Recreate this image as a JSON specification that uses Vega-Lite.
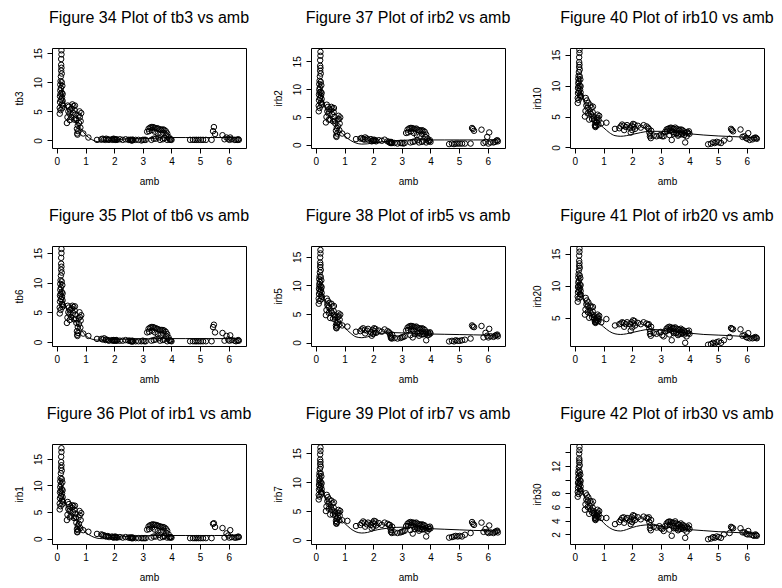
{
"$schema":"https://vega.github.io/schema/vega-lite/v6.json",
"padding":{"left":13,"top":9,"right":0,"bottom":0},
"bounds":"flush",
"columns":3,
"spacing":{"row":98,"column":65},
"datasets":{
"pts":[
{"amb":0.10,"tb3":4.6,"tb6":4.8,"irb1":5.5,"irb2":6.0,"irb5":6.8,"irb7":7.0,"irb10":7.2,"irb20":7.5,"irb30":7.5},
{"amb":0.10,"tb3":5.6,"tb6":5.8,"irb1":6.6,"irb2":7.0,"irb5":7.7,"irb7":7.8,"irb10":8.0,"irb20":8.3,"irb30":8.2},
{"amb":0.11,"tb3":6.6,"tb6":6.8,"irb1":7.6,"irb2":8.0,"irb5":8.5,"irb7":8.7,"irb10":8.8,"irb20":9.0,"irb30":8.8},
{"amb":0.11,"tb3":7.6,"tb6":7.8,"irb1":8.7,"irb2":9.0,"irb5":9.4,"irb7":9.5,"irb10":9.6,"irb20":9.8,"irb30":9.5},
{"amb":0.12,"tb3":8.6,"tb6":8.8,"irb1":9.7,"irb2":9.9,"irb5":10.2,"irb7":10.3,"irb10":10.4,"irb20":10.5,"irb30":10.2},
{"amb":0.12,"tb3":9.6,"tb6":9.8,"irb1":10.8,"irb2":10.9,"irb5":11.1,"irb7":11.1,"irb10":11.1,"irb20":11.3,"irb30":10.9},
{"amb":0.13,"tb3":10.2,"tb6":10.4,"irb1":11.4,"irb2":11.5,"irb5":11.6,"irb7":11.6,"irb10":11.6,"irb20":11.8,"irb30":11.3},
{"amb":0.13,"tb3":5.2,"tb6":5.4,"irb1":6.1,"irb2":6.6,"irb5":7.3,"irb7":7.5,"irb10":7.7,"irb20":8.0,"irb30":7.9},
{"amb":0.14,"tb3":7.0,"tb6":7.2,"irb1":8.0,"irb2":8.4,"irb5":8.9,"irb7":9.0,"irb10":9.1,"irb20":9.3,"irb30":9.1},
{"amb":0.14,"tb3":9.0,"tb6":9.2,"irb1":10.2,"irb2":10.3,"irb5":10.6,"irb7":10.6,"irb10":10.7,"irb20":10.8,"irb30":10.5},
{"amb":0.14,"tb3":11.0,"tb6":11.2,"irb1":12.3,"irb2":12.3,"irb5":12.3,"irb7":12.3,"irb10":12.2,"irb20":12.4,"irb30":11.8},
{"amb":0.15,"tb3":12.0,"tb6":12.2,"irb1":13.3,"irb2":13.3,"irb5":13.2,"irb7":13.1,"irb10":13.0,"irb20":13.1,"irb30":12.5},
{"amb":0.15,"tb3":13.0,"tb6":13.2,"irb1":14.4,"irb2":14.2,"irb5":14.0,"irb7":13.9,"irb10":13.8,"irb20":13.9,"irb30":13.1},
{"amb":0.15,"tb3":14.0,"tb6":14.2,"irb1":15.4,"irb2":15.2,"irb5":14.9,"irb7":14.8,"irb10":14.6,"irb20":14.7,"irb30":13.8},
{"amb":0.16,"tb3":14.8,"tb6":15.0,"irb1":16.3,"irb2":16.0,"irb5":15.6,"irb7":15.4,"irb10":15.3,"irb20":15.3,"irb30":14.3},
{"amb":0.16,"tb3":15.5,"tb6":15.7,"irb1":17.0,"irb2":16.7,"irb5":16.2,"irb7":16.0,"irb10":15.8,"irb20":15.8,"irb30":14.8},
{"amb":0.16,"tb3":12.5,"tb6":12.7,"irb1":13.8,"irb2":13.8,"irb5":13.6,"irb7":13.5,"irb10":13.4,"irb20":13.5,"irb30":12.8},
{"amb":0.17,"tb3":11.5,"tb6":11.7,"irb1":12.8,"irb2":12.8,"irb5":12.7,"irb7":12.7,"irb10":12.6,"irb20":12.8,"irb30":12.1},
{"amb":0.17,"tb3":10.0,"tb6":10.2,"irb1":11.2,"irb2":11.3,"irb5":11.5,"irb7":11.5,"irb10":11.5,"irb20":11.6,"irb30":11.1},
{"amb":0.17,"tb3":8.2,"tb6":8.4,"irb1":9.3,"irb2":9.5,"irb5":9.9,"irb7":10.0,"irb10":10.0,"irb20":10.2,"irb30":9.9},
{"amb":0.18,"tb3":6.2,"tb6":6.4,"irb1":7.2,"irb2":7.6,"irb5":8.2,"irb7":8.3,"irb10":8.5,"irb20":8.7,"irb30":8.6},
{"amb":0.18,"tb3":7.4,"tb6":7.6,"irb1":8.5,"irb2":8.8,"irb5":9.2,"irb7":9.3,"irb10":9.4,"irb20":9.6,"irb30":9.4},
{"amb":0.19,"tb3":9.4,"tb6":9.6,"irb1":10.6,"irb2":10.7,"irb5":10.9,"irb7":11.0,"irb10":11.0,"irb20":11.2,"irb30":10.7},
{"amb":0.19,"tb3":5.6,"tb6":5.9,"irb1":6.5,"irb2":7.1,"irb5":7.6,"irb7":7.9,"irb10":8.1,"irb20":8.2,"irb30":8.1},
{"amb":0.20,"tb3":8.0,"tb6":8.2,"irb1":9.1,"irb2":9.3,"irb5":9.7,"irb7":9.8,"irb10":9.9,"irb20":10.1,"irb30":9.8},
{"amb":0.20,"tb3":6.8,"tb6":7.0,"irb1":7.8,"irb2":8.2,"irb5":8.7,"irb7":8.8,"irb10":8.9,"irb20":9.2,"irb30":9.0},
{"amb":0.21,"tb3":6.0,"tb6":6.2,"irb1":7.0,"irb2":7.4,"irb5":8.0,"irb7":8.2,"irb10":8.3,"irb20":8.6,"irb30":8.4},
{"amb":0.13,"tb3":8.0,"tb6":8.1,"irb1":9.0,"irb2":9.4,"irb5":9.8,"irb7":9.9,"irb10":9.9,"irb20":10.0,"irb30":9.7},
{"amb":0.35,"tb3":3.0,"tb6":3.2,"irb1":3.5,"irb2":4.0,"irb5":4.8,"irb7":5.0,"irb10":5.0,"irb20":5.5,"irb30":5.6},
{"amb":0.37,"tb3":4.0,"tb6":4.1,"irb1":4.5,"irb2":5.0,"irb5":5.7,"irb7":5.8,"irb10":5.9,"irb20":6.3,"irb30":6.4},
{"amb":0.40,"tb3":5.0,"tb6":5.0,"irb1":5.6,"irb2":6.0,"irb5":6.6,"irb7":6.7,"irb10":6.8,"irb20":7.1,"irb30":7.1},
{"amb":0.42,"tb3":5.8,"tb6":5.8,"irb1":6.5,"irb2":6.8,"irb5":7.3,"irb7":7.4,"irb10":7.6,"irb20":7.7,"irb30":7.7},
{"amb":0.44,"tb3":4.6,"tb6":4.7,"irb1":5.2,"irb2":5.6,"irb5":6.2,"irb7":6.3,"irb10":6.4,"irb20":6.8,"irb30":6.8},
{"amb":0.45,"tb3":3.5,"tb6":3.7,"irb1":4.0,"irb2":4.5,"irb5":5.2,"irb7":5.4,"irb10":5.5,"irb20":5.9,"irb30":6.0},
{"amb":0.38,"tb3":6.0,"tb6":6.1,"irb1":6.9,"irb2":7.2,"irb5":7.7,"irb7":7.8,"irb10":8.0,"irb20":8.1,"irb30":8.0},
{"amb":0.47,"tb3":5.3,"tb6":5.4,"irb1":6.0,"irb2":6.4,"irb5":6.9,"irb7":7.0,"irb10":7.2,"irb20":7.4,"irb30":7.4},
{"amb":0.50,"tb3":4.0,"tb6":4.2,"irb1":4.3,"irb2":4.5,"irb5":4.3,"irb7":4.4,"irb10":4.5,"irb20":5.0,"irb30":5.0},
{"amb":0.52,"tb3":5.5,"tb6":5.6,"irb1":5.8,"irb2":6.2,"irb5":5.6,"irb7":5.7,"irb10":5.8,"irb20":6.1,"irb30":6.1},
{"amb":0.54,"tb3":6.2,"tb6":6.1,"irb1":6.3,"irb2":6.8,"irb5":6.8,"irb7":6.8,"irb10":6.8,"irb20":6.9,"irb30":6.9},
{"amb":0.56,"tb3":4.8,"tb6":4.9,"irb1":5.0,"irb2":5.5,"irb5":5.2,"irb7":5.2,"irb10":5.4,"irb20":5.7,"irb30":5.6},
{"amb":0.58,"tb3":5.9,"tb6":5.9,"irb1":6.1,"irb2":6.5,"irb5":6.3,"irb7":6.3,"irb10":6.4,"irb20":6.6,"irb30":6.5},
{"amb":0.60,"tb3":3.6,"tb6":3.8,"irb1":3.9,"irb2":4.2,"irb5":4.2,"irb7":4.4,"irb10":4.6,"irb20":5.1,"irb30":5.2},
{"amb":0.62,"tb3":5.2,"tb6":5.3,"irb1":5.4,"irb2":5.9,"irb5":5.5,"irb7":5.6,"irb10":5.7,"irb20":6.0,"irb30":5.9},
{"amb":0.63,"tb3":6.0,"tb6":6.0,"irb1":6.2,"irb2":6.6,"irb5":6.4,"irb7":6.5,"irb10":6.6,"irb20":6.7,"irb30":6.8},
{"amb":0.65,"tb3":4.5,"tb6":4.6,"irb1":4.7,"irb2":5.0,"irb5":4.8,"irb7":4.9,"irb10":5.0,"irb20":5.4,"irb30":5.4},
{"amb":0.66,"tb3":3.8,"tb6":3.9,"irb1":4.0,"irb2":4.3,"irb5":4.5,"irb7":4.6,"irb10":4.7,"irb20":5.1,"irb30":5.1},
{"amb":0.68,"tb3":3.5,"tb6":3.2,"irb1":3.0,"irb2":3.8,"irb5":4.0,"irb7":4.2,"irb10":4.4,"irb20":4.8,"irb30":4.9},
{"amb":0.70,"tb3":2.0,"tb6":1.8,"irb1":1.8,"irb2":2.5,"irb5":3.0,"irb7":3.3,"irb10":3.6,"irb20":4.4,"irb30":4.4},
{"amb":0.71,"tb3":1.2,"tb6":1.2,"irb1":1.2,"irb2":1.6,"irb5":2.6,"irb7":2.9,"irb10":3.4,"irb20":4.3,"irb30":4.2},
{"amb":0.73,"tb3":2.6,"tb6":2.5,"irb1":2.4,"irb2":3.0,"irb5":3.4,"irb7":3.7,"irb10":4.0,"irb20":4.6,"irb30":4.6},
{"amb":0.74,"tb3":1.6,"tb6":1.5,"irb1":1.6,"irb2":2.0,"irb5":2.8,"irb7":3.1,"irb10":3.5,"irb20":4.4,"irb30":4.3},
{"amb":0.76,"tb3":4.3,"tb6":4.0,"irb1":4.0,"irb2":4.5,"irb5":4.5,"irb7":4.6,"irb10":4.7,"irb20":5.0,"irb30":5.1},
{"amb":0.77,"tb3":3.0,"tb6":3.0,"irb1":2.8,"irb2":3.3,"irb5":3.6,"irb7":3.9,"irb10":4.1,"irb20":4.6,"irb30":4.7},
{"amb":0.79,"tb3":5.0,"tb6":5.0,"irb1":5.2,"irb2":5.2,"irb5":5.1,"irb7":5.2,"irb10":5.3,"irb20":5.5,"irb30":5.6},
{"amb":0.80,"tb3":4.0,"tb6":4.2,"irb1":4.4,"irb2":4.6,"irb5":4.6,"irb7":4.7,"irb10":4.8,"irb20":5.1,"irb30":5.2},
{"amb":0.82,"tb3":2.2,"tb6":2.4,"irb1":2.0,"irb2":2.6,"irb5":3.2,"irb7":3.4,"irb10":3.7,"irb20":4.5,"irb30":4.5},
{"amb":0.83,"tb3":3.3,"tb6":3.6,"irb1":3.5,"irb2":3.8,"irb5":4.0,"irb7":4.2,"irb10":4.4,"irb20":4.8,"irb30":4.9},
{"amb":0.85,"tb3":4.7,"tb6":4.5,"irb1":4.8,"irb2":4.9,"irb5":4.9,"irb7":5.0,"irb10":5.1,"irb20":5.3,"irb30":5.4},
{"amb":0.72,"tb3":1.0,"tb6":1.0,"irb1":1.3,"irb2":1.4,"irb5":2.5,"irb7":2.8,"irb10":3.3,"irb20":4.2,"irb30":4.1},
{"amb":0.92,"tb3":1.2,"tb6":1.4,"irb1":1.6,"irb2":2.0,"irb5":3.0,"irb7":3.4,"irb10":3.9,"irb20":4.3,"irb30":4.4},
{"amb":1.10,"tb3":0.5,"tb6":1.0,"irb1":1.3,"irb2":1.6,"irb5":2.8,"irb7":3.3,"irb10":4.0,"irb20":4.8,"irb30":4.4},
{"amb":1.40,"tb3":0.1,"tb6":0.5,"irb1":0.9,"irb2":1.0,"irb5":1.9,"irb7":2.4,"irb10":3.0,"irb20":3.8,"irb30":3.5},
{"amb":1.55,"tb3":0.2,"tb6":0.5,"irb1":0.8,"irb2":1.1,"irb5":2.0,"irb7":2.6,"irb10":3.1,"irb20":4.0,"irb30":3.8},
{"amb":1.60,"tb3":0.3,"tb6":0.4,"irb1":0.7,"irb2":1.2,"irb5":2.3,"irb7":2.9,"irb10":3.4,"irb20":4.1,"irb30":4.1},
{"amb":1.65,"tb3":0.2,"tb6":0.6,"irb1":0.6,"irb2":1.0,"irb5":2.5,"irb7":3.2,"irb10":3.7,"irb20":4.3,"irb30":4.4},
{"amb":1.70,"tb3":0.1,"tb6":0.3,"irb1":0.5,"irb2":0.9,"irb5":2.2,"irb7":3.0,"irb10":3.5,"irb20":4.2,"irb30":4.5},
{"amb":1.72,"tb3":0.3,"tb6":0.4,"irb1":0.4,"irb2":1.3,"irb5":1.6,"irb7":2.3,"irb10":2.8,"irb20":3.6,"irb30":3.7},
{"amb":1.78,"tb3":0.2,"tb6":0.3,"irb1":0.5,"irb2":1.1,"irb5":2.1,"irb7":2.7,"irb10":3.3,"irb20":4.0,"irb30":4.2},
{"amb":1.82,"tb3":0.1,"tb6":0.2,"irb1":0.3,"irb2":0.9,"irb5":2.4,"irb7":3.0,"irb10":3.6,"irb20":4.3,"irb30":4.4},
{"amb":1.92,"tb3":0.2,"tb6":0.3,"irb1":0.4,"irb2":1.0,"irb5":1.8,"irb7":2.6,"irb10":3.2,"irb20":4.0,"irb30":4.0},
{"amb":1.95,"tb3":0.1,"tb6":0.2,"irb1":0.3,"irb2":0.6,"irb5":1.2,"irb7":2.0,"irb10":2.4,"irb20":3.0,"irb30":3.5},
{"amb":1.98,"tb3":0.3,"tb6":0.3,"irb1":0.2,"irb2":0.8,"irb5":2.2,"irb7":3.0,"irb10":3.5,"irb20":4.3,"irb30":4.5},
{"amb":2.00,"tb3":0.2,"tb6":0.2,"irb1":0.3,"irb2":0.7,"irb5":1.5,"irb7":2.3,"irb10":2.8,"irb20":3.5,"irb30":3.8},
{"amb":2.03,"tb3":0.2,"tb6":0.3,"irb1":0.4,"irb2":0.9,"irb5":2.5,"irb7":3.3,"irb10":3.8,"irb20":4.6,"irb30":4.8},
{"amb":2.05,"tb3":0.1,"tb6":0.2,"irb1":0.3,"irb2":0.7,"irb5":2.0,"irb7":2.8,"irb10":3.3,"irb20":4.1,"irb30":4.3},
{"amb":2.08,"tb3":0.2,"tb6":0.3,"irb1":0.3,"irb2":0.8,"irb5":2.4,"irb7":3.2,"irb10":3.7,"irb20":4.5,"irb30":4.7},
{"amb":2.10,"tb3":0.1,"tb6":0.2,"irb1":0.2,"irb2":0.6,"irb5":1.7,"irb7":2.5,"irb10":3.0,"irb20":3.8,"irb30":4.1},
{"amb":2.20,"tb3":0.2,"tb6":0.2,"irb1":0.3,"irb2":0.8,"irb5":2.1,"irb7":2.9,"irb10":3.5,"irb20":4.2,"irb30":4.5},
{"amb":2.30,"tb3":0.1,"tb6":0.2,"irb1":0.2,"irb2":0.7,"irb5":1.9,"irb7":2.6,"irb10":3.2,"irb20":4.0,"irb30":4.2},
{"amb":2.40,"tb3":0.2,"tb6":0.3,"irb1":0.3,"irb2":0.9,"irb5":2.3,"irb7":3.0,"irb10":3.6,"irb20":4.3,"irb30":4.6},
{"amb":2.50,"tb3":0.1,"tb6":0.2,"irb1":0.2,"irb2":0.6,"irb5":2.0,"irb7":2.8,"irb10":3.4,"irb20":4.1,"irb30":4.4},
{"amb":2.55,"tb3":0.1,"tb6":0.2,"irb1":0.2,"irb2":0.5,"irb5":1.8,"irb7":2.6,"irb10":3.2,"irb20":3.9,"irb30":4.3},
{"amb":2.58,"tb3":0.1,"tb6":0.1,"irb1":0.2,"irb2":0.4,"irb5":1.6,"irb7":2.6,"irb10":3.0,"irb20":4.0,"irb30":4.5},
{"amb":2.60,"tb3":0.0,"tb6":0.1,"irb1":0.1,"irb2":0.3,"irb5":1.2,"irb7":2.0,"irb10":2.4,"irb20":3.3,"irb30":3.8},
{"amb":2.62,"tb3":0.1,"tb6":0.1,"irb1":0.2,"irb2":0.5,"irb5":0.8,"irb7":1.4,"irb10":1.8,"irb20":2.5,"irb30":2.9},
{"amb":2.63,"tb3":0.0,"tb6":0.2,"irb1":0.1,"irb2":0.3,"irb5":1.0,"irb7":1.7,"irb10":2.1,"irb20":2.9,"irb30":3.3},
{"amb":2.65,"tb3":0.1,"tb6":0.1,"irb1":0.2,"irb2":0.4,"irb5":0.7,"irb7":1.2,"irb10":1.5,"irb20":2.2,"irb30":2.6},
{"amb":2.66,"tb3":0.1,"tb6":0.1,"irb1":0.1,"irb2":0.3,"irb5":1.4,"irb7":2.3,"irb10":2.7,"irb20":3.6,"irb30":4.1},
{"amb":2.75,"tb3":0.1,"tb6":0.1,"irb1":0.1,"irb2":0.3,"irb5":0.8,"irb7":1.3,"irb10":1.9,"irb20":2.6,"irb30":3.1},
{"amb":2.85,"tb3":0.1,"tb6":0.1,"irb1":0.1,"irb2":0.2,"irb5":0.7,"irb7":1.2,"irb10":1.8,"irb20":2.5,"irb30":3.0},
{"amb":2.95,"tb3":0.0,"tb6":0.1,"irb1":0.1,"irb2":0.3,"irb5":0.8,"irb7":1.3,"irb10":1.9,"irb20":2.7,"irb30":3.2},
{"amb":3.00,"tb3":0.1,"tb6":0.2,"irb1":0.1,"irb2":0.3,"irb5":0.9,"irb7":1.4,"irb10":2.0,"irb20":2.8,"irb30":2.9},
{"amb":3.05,"tb3":0.1,"tb6":0.1,"irb1":0.1,"irb2":0.2,"irb5":1.0,"irb7":1.5,"irb10":1.8,"irb20":2.3,"irb30":2.8},
{"amb":3.15,"tb3":1.5,"tb6":1.6,"irb1":1.7,"irb2":2.1,"irb5":2.1,"irb7":2.4,"irb10":2.5,"irb20":2.9,"irb30":3.2},
{"amb":3.20,"tb3":2.0,"tb6":2.2,"irb1":2.3,"irb2":2.7,"irb5":2.6,"irb7":2.8,"irb10":2.9,"irb20":3.3,"irb30":3.6},
{"amb":3.25,"tb3":2.2,"tb6":2.4,"irb1":2.5,"irb2":2.9,"irb5":2.8,"irb7":3.0,"irb10":3.0,"irb20":3.5,"irb30":3.8},
{"amb":3.30,"tb3":2.3,"tb6":2.5,"irb1":2.6,"irb2":3.0,"irb5":2.9,"irb7":3.1,"irb10":3.1,"irb20":3.6,"irb30":3.9},
{"amb":3.35,"tb3":2.3,"tb6":2.5,"irb1":2.7,"irb2":3.0,"irb5":2.9,"irb7":3.0,"irb10":3.2,"irb20":3.5,"irb30":3.8},
{"amb":3.40,"tb3":2.2,"tb6":2.4,"irb1":2.6,"irb2":2.9,"irb5":2.8,"irb7":3.0,"irb10":3.1,"irb20":3.4,"irb30":3.7},
{"amb":3.45,"tb3":2.1,"tb6":2.3,"irb1":2.6,"irb2":2.8,"irb5":2.7,"irb7":2.9,"irb10":3.0,"irb20":3.4,"irb30":3.7},
{"amb":3.50,"tb3":2.1,"tb6":2.2,"irb1":2.5,"irb2":2.9,"irb5":2.8,"irb7":3.0,"irb10":3.2,"irb20":3.5,"irb30":3.9},
{"amb":3.55,"tb3":2.0,"tb6":2.1,"irb1":2.4,"irb2":2.7,"irb5":2.6,"irb7":2.8,"irb10":3.0,"irb20":3.3,"irb30":3.6},
{"amb":3.60,"tb3":1.9,"tb6":2.0,"irb1":2.3,"irb2":2.6,"irb5":2.5,"irb7":2.7,"irb10":2.9,"irb20":3.2,"irb30":3.5},
{"amb":3.65,"tb3":1.8,"tb6":2.0,"irb1":2.2,"irb2":2.5,"irb5":2.4,"irb7":2.6,"irb10":2.8,"irb20":3.1,"irb30":3.4},
{"amb":3.70,"tb3":1.9,"tb6":2.0,"irb1":2.2,"irb2":2.6,"irb5":2.5,"irb7":2.7,"irb10":2.9,"irb20":3.3,"irb30":3.6},
{"amb":3.75,"tb3":1.8,"tb6":1.9,"irb1":2.1,"irb2":2.5,"irb5":2.4,"irb7":2.6,"irb10":2.8,"irb20":3.1,"irb30":3.4},
{"amb":3.80,"tb3":1.6,"tb6":1.7,"irb1":1.9,"irb2":2.3,"irb5":2.2,"irb7":2.5,"irb10":2.6,"irb20":3.0,"irb30":3.3},
{"amb":3.85,"tb3":1.2,"tb6":1.3,"irb1":1.5,"irb2":1.8,"irb5":1.8,"irb7":2.1,"irb10":2.3,"irb20":2.7,"irb30":3.0},
{"amb":3.90,"tb3":0.6,"tb6":0.7,"irb1":0.8,"irb2":1.1,"irb5":1.3,"irb7":1.6,"irb10":1.8,"irb20":2.1,"irb30":2.4},
{"amb":3.22,"tb3":1.6,"tb6":1.7,"irb1":1.8,"irb2":2.2,"irb5":2.2,"irb7":2.4,"irb10":2.6,"irb20":3.0,"irb30":3.3},
{"amb":3.32,"tb3":1.8,"tb6":1.9,"irb1":2.1,"irb2":2.4,"irb5":2.4,"irb7":2.6,"irb10":2.7,"irb20":3.1,"irb30":3.4},
{"amb":3.42,"tb3":1.5,"tb6":1.6,"irb1":1.7,"irb2":2.1,"irb5":2.1,"irb7":2.3,"irb10":2.5,"irb20":2.9,"irb30":3.2},
{"amb":3.52,"tb3":1.2,"tb6":1.3,"irb1":1.4,"irb2":1.7,"irb5":1.8,"irb7":2.1,"irb10":2.3,"irb20":2.6,"irb30":2.9},
{"amb":3.62,"tb3":1.0,"tb6":1.1,"irb1":1.2,"irb2":1.5,"irb5":1.6,"irb7":1.9,"irb10":2.1,"irb20":2.5,"irb30":2.8},
{"amb":3.72,"tb3":1.3,"tb6":1.4,"irb1":1.5,"irb2":1.9,"irb5":1.9,"irb7":2.2,"irb10":2.4,"irb20":2.8,"irb30":3.1},
{"amb":3.82,"tb3":0.9,"tb6":1.0,"irb1":1.1,"irb2":1.4,"irb5":1.5,"irb7":1.8,"irb10":2.0,"irb20":2.4,"irb30":2.7},
{"amb":3.10,"tb3":0.1,"tb6":0.1,"irb1":0.1,"irb2":0.3,"irb5":1.1,"irb7":1.6,"irb10":1.8,"irb20":2.1,"irb30":2.5},
{"amb":3.30,"tb3":0.1,"tb6":0.2,"irb1":0.2,"irb2":0.4,"irb5":1.3,"irb7":1.7,"irb10":2.0,"irb20":2.4,"irb30":2.7},
{"amb":3.38,"tb3":0.3,"tb6":0.3,"irb1":0.4,"irb2":0.5,"irb5":0.9,"irb7":1.1,"irb10":1.2,"irb20":1.5,"irb30":1.8},
{"amb":3.45,"tb3":0.3,"tb6":0.4,"irb1":0.4,"irb2":0.6,"irb5":1.5,"irb7":1.9,"irb10":2.2,"irb20":2.6,"irb30":2.9},
{"amb":3.55,"tb3":0.5,"tb6":0.6,"irb1":0.7,"irb2":0.8,"irb5":1.6,"irb7":2.0,"irb10":2.3,"irb20":2.7,"irb30":3.0},
{"amb":3.70,"tb3":0.2,"tb6":0.3,"irb1":0.3,"irb2":0.5,"irb5":1.4,"irb7":1.8,"irb10":2.1,"irb20":2.5,"irb30":2.8},
{"amb":3.85,"tb3":0.1,"tb6":0.1,"irb1":0.2,"irb2":0.4,"irb5":0.4,"irb7":0.6,"irb10":0.8,"irb20":1.1,"irb30":1.5},
{"amb":3.95,"tb3":0.1,"tb6":0.2,"irb1":0.2,"irb2":0.6,"irb5":1.4,"irb7":1.9,"irb10":2.3,"irb20":2.6,"irb30":2.9},
{"amb":4.00,"tb3":0.1,"tb6":0.1,"irb1":0.2,"irb2":0.5,"irb5":1.6,"irb7":2.0,"irb10":2.2,"irb20":2.5,"irb30":2.8},
{"amb":3.92,"tb3":0.3,"tb6":0.3,"irb1":0.3,"irb2":0.7,"irb5":1.7,"irb7":2.2,"irb10":2.5,"irb20":2.9,"irb30":3.1},
{"amb":3.98,"tb3":0.2,"tb6":0.2,"irb1":0.3,"irb2":0.8,"irb5":1.8,"irb7":2.3,"irb10":2.6,"irb20":3.0,"irb30":3.3},
{"amb":3.60,"tb3":0.1,"tb6":0.2,"irb1":0.2,"irb2":0.4,"irb5":1.2,"irb7":1.6,"irb10":1.9,"irb20":2.3,"irb30":2.6},
{"amb":3.75,"tb3":0.4,"tb6":0.4,"irb1":0.5,"irb2":0.7,"irb5":1.5,"irb7":1.9,"irb10":2.2,"irb20":2.6,"irb30":2.9},
{"amb":4.65,"tb3":0.1,"tb6":0.1,"irb1":0.1,"irb2":0.1,"irb5":0.2,"irb7":0.4,"irb10":0.5,"irb20":0.8,"irb30":1.3},
{"amb":4.75,"tb3":0.1,"tb6":0.1,"irb1":0.1,"irb2":0.2,"irb5":0.3,"irb7":0.5,"irb10":0.6,"irb20":0.9,"irb30":1.4},
{"amb":4.82,"tb3":0.1,"tb6":0.1,"irb1":0.1,"irb2":0.1,"irb5":0.2,"irb7":0.6,"irb10":0.8,"irb20":1.1,"irb30":1.6},
{"amb":4.88,"tb3":0.1,"tb6":0.1,"irb1":0.1,"irb2":0.2,"irb5":0.4,"irb7":0.7,"irb10":0.7,"irb20":1.0,"irb30":1.5},
{"amb":4.95,"tb3":0.1,"tb6":0.1,"irb1":0.1,"irb2":0.2,"irb5":0.3,"irb7":0.6,"irb10":0.9,"irb20":1.2,"irb30":1.7},
{"amb":5.02,"tb3":0.1,"tb6":0.1,"irb1":0.1,"irb2":0.2,"irb5":0.3,"irb7":0.7,"irb10":0.8,"irb20":1.3,"irb30":1.6},
{"amb":5.10,"tb3":0.1,"tb6":0.1,"irb1":0.1,"irb2":0.2,"irb5":0.4,"irb7":0.6,"irb10":0.7,"irb20":1.1,"irb30":1.5},
{"amb":5.20,"tb3":0.1,"tb6":0.1,"irb1":0.1,"irb2":0.2,"irb5":0.5,"irb7":0.9,"irb10":1.1,"irb20":1.5,"irb30":2.0},
{"amb":5.40,"tb3":0.1,"tb6":0.1,"irb1":0.1,"irb2":0.2,"irb5":0.7,"irb7":1.2,"irb10":1.4,"irb20":2.0,"irb30":2.2},
{"amb":5.45,"tb3":1.6,"tb6":2.5,"irb1":2.8,"irb2":3.0,"irb5":3.0,"irb7":3.1,"irb10":3.0,"irb20":3.4,"irb30":3.1},
{"amb":5.48,"tb3":2.3,"tb6":2.9,"irb1":2.9,"irb2":2.8,"irb5":2.8,"irb7":2.8,"irb10":2.8,"irb20":3.3,"irb30":3.0},
{"amb":5.52,"tb3":1.1,"tb6":1.6,"irb1":2.2,"irb2":2.5,"irb5":2.7,"irb7":2.6,"irb10":2.6,"irb20":3.2,"irb30":2.9},
{"amb":5.78,"tb3":0.9,"tb6":1.5,"irb1":2.0,"irb2":2.7,"irb5":2.9,"irb7":3.0,"irb10":2.9,"irb20":3.2,"irb30":2.9},
{"amb":5.85,"tb3":0.2,"tb6":0.2,"irb1":0.2,"irb2":0.3,"irb5":0.9,"irb7":1.4,"irb10":1.7,"irb20":2.2,"irb30":2.3},
{"amb":5.92,"tb3":0.5,"tb6":1.0,"irb1":1.0,"irb2":0.5,"irb5":1.7,"irb7":1.9,"irb10":1.8,"irb20":2.3,"irb30":2.3},
{"amb":5.98,"tb3":0.3,"tb6":0.4,"irb1":0.6,"irb2":1.4,"irb5":1.2,"irb7":1.4,"irb10":1.5,"irb20":2.0,"irb30":2.1},
{"amb":6.02,"tb3":0.1,"tb6":0.2,"irb1":0.2,"irb2":0.2,"irb5":0.9,"irb7":1.2,"irb10":1.4,"irb20":1.9,"irb30":2.0},
{"amb":6.05,"tb3":0.5,"tb6":1.1,"irb1":1.6,"irb2":2.2,"irb5":2.4,"irb7":2.5,"irb10":2.3,"irb20":2.6,"irb30":2.5},
{"amb":6.10,"tb3":0.2,"tb6":0.3,"irb1":0.3,"irb2":0.4,"irb5":1.1,"irb7":1.3,"irb10":1.2,"irb20":1.8,"irb30":2.0},
{"amb":6.20,"tb3":0.1,"tb6":0.2,"irb1":0.2,"irb2":0.4,"irb5":1.0,"irb7":1.2,"irb10":1.3,"irb20":1.8,"irb30":1.9},
{"amb":6.25,"tb3":0.1,"tb6":0.1,"irb1":0.2,"irb2":0.5,"irb5":1.2,"irb7":1.4,"irb10":1.5,"irb20":1.9,"irb30":1.8},
{"amb":6.30,"tb3":0.1,"tb6":0.2,"irb1":0.3,"irb2":0.7,"irb5":1.3,"irb7":1.5,"irb10":1.6,"irb20":2.0,"irb30":2.0},
{"amb":6.33,"tb3":0.2,"tb6":0.3,"irb1":0.4,"irb2":0.8,"irb5":1.4,"irb7":1.6,"irb10":1.5,"irb20":1.9,"irb30":1.9},
{"amb":6.35,"tb3":0.1,"tb6":0.2,"irb1":0.3,"irb2":0.6,"irb5":1.1,"irb7":1.3,"irb10":1.4,"irb20":1.8,"irb30":1.8}
],
"fit":[
{"amb":0.1,"tb3":10.5,"tb6":10.5,"irb1":11.5,"irb2":11.5,"irb5":11.5,"irb7":11.5,"irb10":11.5,"irb20":11.6,"irb30":11.0},
{"amb":0.2,"tb3":8.0,"tb6":8.0,"irb1":8.8,"irb2":9.0,"irb5":9.0,"irb7":9.2,"irb10":9.3,"irb20":9.5,"irb30":9.3},
{"amb":0.3,"tb3":6.0,"tb6":6.0,"irb1":6.5,"irb2":7.0,"irb5":7.2,"irb7":7.5,"irb10":7.6,"irb20":7.8,"irb30":7.8},
{"amb":0.4,"tb3":4.8,"tb6":4.9,"irb1":5.2,"irb2":5.6,"irb5":6.0,"irb7":6.3,"irb10":6.4,"irb20":6.7,"irb30":6.8},
{"amb":0.5,"tb3":4.2,"tb6":4.3,"irb1":4.5,"irb2":4.8,"irb5":5.2,"irb7":5.5,"irb10":5.6,"irb20":5.9,"irb30":6.0},
{"amb":0.6,"tb3":3.6,"tb6":3.7,"irb1":3.9,"irb2":4.2,"irb5":4.6,"irb7":4.9,"irb10":5.0,"irb20":5.3,"irb30":5.5},
{"amb":0.7,"tb3":3.0,"tb6":3.1,"irb1":3.2,"irb2":3.5,"irb5":4.0,"irb7":4.3,"irb10":4.5,"irb20":4.8,"irb30":5.0},
{"amb":0.8,"tb3":2.3,"tb6":2.4,"irb1":2.5,"irb2":2.8,"irb5":3.5,"irb7":3.8,"irb10":4.0,"irb20":4.4,"irb30":4.6},
{"amb":0.9,"tb3":1.6,"tb6":1.7,"irb1":1.8,"irb2":2.1,"irb5":3.1,"irb7":3.3,"irb10":3.6,"irb20":4.0,"irb30":4.2},
{"amb":1.0,"tb3":1.0,"tb6":1.1,"irb1":1.2,"irb2":1.6,"irb5":2.6,"irb7":2.9,"irb10":3.2,"irb20":3.6,"irb30":3.7},
{"amb":1.2,"tb3":0.2,"tb6":0.5,"irb1":0.5,"irb2":0.8,"irb5":1.7,"irb7":2.0,"irb10":2.4,"irb20":2.9,"irb30":3.0},
{"amb":1.4,"tb3":-0.2,"tb6":0.3,"irb1":0.1,"irb2":0.3,"irb5":1.0,"irb7":1.4,"irb10":1.9,"irb20":2.5,"irb30":2.6},
{"amb":1.6,"tb3":-0.3,"tb6":0.3,"irb1":0.0,"irb2":0.1,"irb5":0.85,"irb7":1.2,"irb10":1.8,"irb20":2.4,"irb30":2.5},
{"amb":1.8,"tb3":-0.1,"tb6":0.35,"irb1":0.1,"irb2":0.15,"irb5":1.0,"irb7":1.3,"irb10":1.9,"irb20":2.5,"irb30":2.7},
{"amb":2.0,"tb3":0.1,"tb6":0.4,"irb1":0.2,"irb2":0.3,"irb5":1.3,"irb7":1.6,"irb10":2.1,"irb20":2.7,"irb30":3.0},
{"amb":2.3,"tb3":0.2,"tb6":0.45,"irb1":0.35,"irb2":0.5,"irb5":1.6,"irb7":1.9,"irb10":2.4,"irb20":3.0,"irb30":3.3},
{"amb":2.6,"tb3":0.3,"tb6":0.5,"irb1":0.45,"irb2":0.65,"irb5":1.75,"irb7":2.1,"irb10":2.6,"irb20":3.2,"irb30":3.4},
{"amb":3.0,"tb3":0.3,"tb6":0.5,"irb1":0.55,"irb2":0.8,"irb5":1.7,"irb7":2.2,"irb10":2.6,"irb20":3.1,"irb30":3.2},
{"amb":3.5,"tb3":0.4,"tb6":0.55,"irb1":0.6,"irb2":0.85,"irb5":1.6,"irb7":2.1,"irb10":2.4,"irb20":2.8,"irb30":2.9},
{"amb":4.0,"tb3":0.5,"tb6":0.55,"irb1":0.6,"irb2":0.85,"irb5":1.5,"irb7":1.95,"irb10":2.2,"irb20":2.6,"irb30":2.7},
{"amb":4.5,"tb3":0.5,"tb6":0.55,"irb1":0.6,"irb2":0.85,"irb5":1.45,"irb7":1.85,"irb10":2.0,"irb20":2.4,"irb30":2.55},
{"amb":5.0,"tb3":0.5,"tb6":0.55,"irb1":0.6,"irb2":0.85,"irb5":1.4,"irb7":1.75,"irb10":1.85,"irb20":2.3,"irb30":2.4},
{"amb":5.5,"tb3":0.5,"tb6":0.55,"irb1":0.6,"irb2":0.85,"irb5":1.35,"irb7":1.65,"irb10":1.75,"irb20":2.2,"irb30":2.3},
{"amb":6.0,"tb3":0.5,"tb6":0.55,"irb1":0.6,"irb2":0.85,"irb5":1.3,"irb7":1.6,"irb10":1.65,"irb20":2.05,"irb30":2.2},
{"amb":6.35,"tb3":0.5,"tb6":0.55,"irb1":0.6,"irb2":0.85,"irb5":1.3,"irb7":1.55,"irb10":1.6,"irb20":2.0,"irb30":2.1}
]
},
"concat":[
{"width":194,"height":100,"title":"Figure 34 Plot of tb3 vs amb",
"encoding":{"x":{"field":"amb","type":"quantitative","title":"amb","scale":{"domain":[-0.17,6.6],"nice":false,"zero":false},"axis":{"values":[0,1,2,3,4,5,6],"tickCount":7}},"y":{"field":"tb3","type":"quantitative","title":"tb3","scale":{"domain":[-1.3,15.9],"nice":false,"zero":false},"axis":{"values":[0,5,10,15]}}},
"layer":[{"data":{"name":"pts"},"mark":{"type":"point","clip":true}},{"data":{"name":"fit"},"mark":{"type":"line","interpolate":"monotone","clip":true}}]},
{"width":194,"height":100,"title":"Figure 37 Plot of irb2 vs amb",
"encoding":{"x":{"field":"amb","type":"quantitative","title":"amb","scale":{"domain":[-0.17,6.6],"nice":false,"zero":false},"axis":{"values":[0,1,2,3,4,5,6],"tickCount":7}},"y":{"field":"irb2","type":"quantitative","title":"irb2","scale":{"domain":[-0.6,17.4],"nice":false,"zero":false},"axis":{"values":[0,5,10,15]}}},
"layer":[{"data":{"name":"pts"},"mark":{"type":"point","clip":true}},{"data":{"name":"fit"},"mark":{"type":"line","interpolate":"monotone","clip":true}}]},
{"width":194,"height":100,"title":"Figure 40 Plot of irb10 vs amb",
"encoding":{"x":{"field":"amb","type":"quantitative","title":"amb","scale":{"domain":[-0.17,6.6],"nice":false,"zero":false},"axis":{"values":[0,1,2,3,4,5,6],"tickCount":7}},"y":{"field":"irb10","type":"quantitative","title":"irb10","scale":{"domain":[-0.1,16.1],"nice":false,"zero":false},"axis":{"values":[0,5,10,15]}}},
"layer":[{"data":{"name":"pts"},"mark":{"type":"point","clip":true}},{"data":{"name":"fit"},"mark":{"type":"line","interpolate":"monotone","clip":true}}]},
{"width":194,"height":100,"title":"Figure 35 Plot of tb6 vs amb",
"encoding":{"x":{"field":"amb","type":"quantitative","title":"amb","scale":{"domain":[-0.17,6.6],"nice":false,"zero":false},"axis":{"values":[0,1,2,3,4,5,6],"tickCount":7}},"y":{"field":"tb6","type":"quantitative","title":"tb6","scale":{"domain":[-0.7,16.2],"nice":false,"zero":false},"axis":{"values":[0,5,10,15]}}},
"layer":[{"data":{"name":"pts"},"mark":{"type":"point","clip":true}},{"data":{"name":"fit"},"mark":{"type":"line","interpolate":"monotone","clip":true}}]},
{"width":194,"height":100,"title":"Figure 38 Plot of irb5 vs amb",
"encoding":{"x":{"field":"amb","type":"quantitative","title":"amb","scale":{"domain":[-0.17,6.6],"nice":false,"zero":false},"axis":{"values":[0,1,2,3,4,5,6],"tickCount":7}},"y":{"field":"irb5","type":"quantitative","title":"irb5","scale":{"domain":[-0.6,16.9],"nice":false,"zero":false},"axis":{"values":[0,5,10,15]}}},
"layer":[{"data":{"name":"pts"},"mark":{"type":"point","clip":true}},{"data":{"name":"fit"},"mark":{"type":"line","interpolate":"monotone","clip":true}}]},
{"width":194,"height":100,"title":"Figure 41 Plot of irb20 vs amb",
"encoding":{"x":{"field":"amb","type":"quantitative","title":"amb","scale":{"domain":[-0.17,6.6],"nice":false,"zero":false},"axis":{"values":[0,1,2,3,4,5,6],"tickCount":7}},"y":{"field":"irb20","type":"quantitative","title":"irb20","scale":{"domain":[0.6,16.2],"nice":false,"zero":false},"axis":{"values":[5,10,15]}}},
"layer":[{"data":{"name":"pts"},"mark":{"type":"point","clip":true}},{"data":{"name":"fit"},"mark":{"type":"line","interpolate":"monotone","clip":true}}]},
{"width":194,"height":100,"title":"Figure 36 Plot of irb1 vs amb",
"encoding":{"x":{"field":"amb","type":"quantitative","title":"amb","scale":{"domain":[-0.17,6.6],"nice":false,"zero":false},"axis":{"values":[0,1,2,3,4,5,6],"tickCount":7}},"y":{"field":"irb1","type":"quantitative","title":"irb1","scale":{"domain":[-1.0,17.8],"nice":false,"zero":false},"axis":{"values":[0,5,10,15]}}},
"layer":[{"data":{"name":"pts"},"mark":{"type":"point","clip":true}},{"data":{"name":"fit"},"mark":{"type":"line","interpolate":"monotone","clip":true}}]},
{"width":194,"height":100,"title":"Figure 39 Plot of irb7 vs amb",
"encoding":{"x":{"field":"amb","type":"quantitative","title":"amb","scale":{"domain":[-0.17,6.6],"nice":false,"zero":false},"axis":{"values":[0,1,2,3,4,5,6],"tickCount":7}},"y":{"field":"irb7","type":"quantitative","title":"irb7","scale":{"domain":[-0.7,16.6],"nice":false,"zero":false},"axis":{"values":[0,5,10,15]}}},
"layer":[{"data":{"name":"pts"},"mark":{"type":"point","clip":true}},{"data":{"name":"fit"},"mark":{"type":"line","interpolate":"monotone","clip":true}}]},
{"width":194,"height":100,"title":"Figure 42 Plot of irb30 vs amb",
"encoding":{"x":{"field":"amb","type":"quantitative","title":"amb","scale":{"domain":[-0.17,6.6],"nice":false,"zero":false},"axis":{"values":[0,1,2,3,4,5,6],"tickCount":7}},"y":{"field":"irb30","type":"quantitative","title":"irb30","scale":{"domain":[0.6,15.2],"nice":false,"zero":false},"axis":{"values":[2,4,6,8,10,12,14],"labelExpr":"datum.value==10||datum.value==14 ? '' : datum.label"}}},
"layer":[{"data":{"name":"pts"},"mark":{"type":"point","clip":true}},{"data":{"name":"fit"},"mark":{"type":"line","interpolate":"monotone","clip":true}}]}
],
"config":{
"font":"Liberation Sans",
"background":"white",
"view":{"stroke":"black","strokeWidth":1},
"axis":{"domain":false,"grid":false,"tickColor":"black","tickSize":5,"tickWidth":1,"labelColor":"black","labelFontSize":10,"labelFont":"Liberation Sans","labelFlush":false,"labelOverlap":false,"labelBound":false,"titleColor":"black","titleFontSize":10,"titleFontWeight":"normal","titleFont":"Liberation Sans"},
"axisX":{"labelPadding":3,"titlePadding":10},
"axisY":{"labelAngle":-90,"labelAlign":"center","labelBaseline":"bottom","labelPadding":4,"titlePadding":9},
"title":{"fontSize":16,"fontWeight":"normal","color":"black","font":"Liberation Sans","anchor":"middle","frame":"group","baseline":"alphabetic","offset":22},
"point":{"filled":false,"color":"black","size":30,"strokeWidth":1,"opacity":1},
"line":{"color":"black","strokeWidth":1}
}
}
